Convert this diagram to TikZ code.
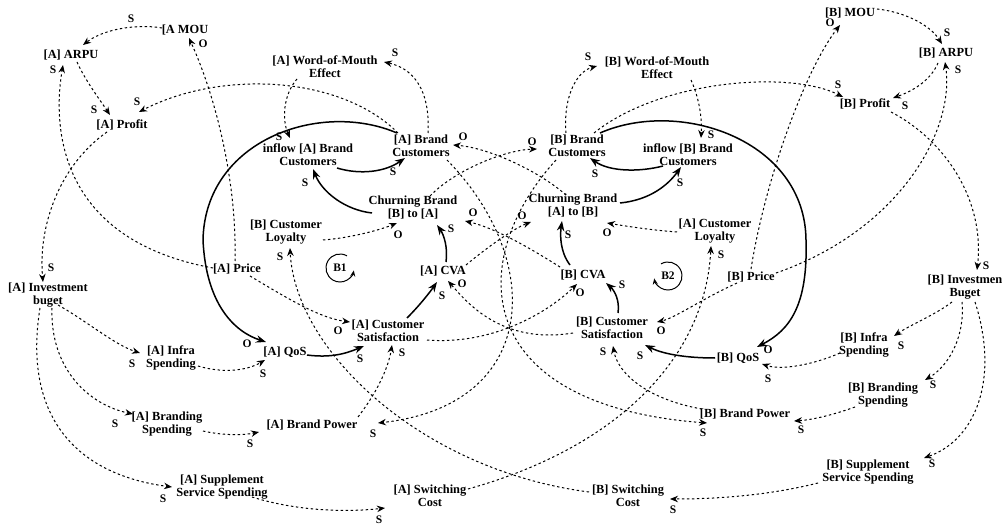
\documentclass[tikz,border=0pt]{standalone}
\usepackage{fontspec}
\setmainfont{Liberation Serif}
\usetikzlibrary{arrows.meta,calc}
\newcounter{labc}
\newcommand{\lab}[3]{\stepcounter{labc}\node[lab] (lab\arabic{labc}) at (#1,-#2) {#3};}
\begin{document}
\begin{tikzpicture}[x=1pt,y=1pt,
  var/.style={font=\fontsize{12.4}{13}\selectfont\bfseries, align=center, inner sep=1pt},
  lab/.style={font=\fontsize{11.5}{11.5}\selectfont\bfseries, inner sep=0pt},
  dl/.style={line width=1pt, dash pattern=on 2.4pt off 2.6pt, -{Stealth[length=8pt,width=6.5pt]}},
  sl/.style={line width=1.5pt, -{Stealth[length=10pt,width=7.5pt]}},
  loopc/.style={line width=1pt, -{Stealth[length=6pt,width=5pt]}}]
\useasboundingbox (0,0) rectangle (1008,-526);
% ---------- nodes A side
\node[var] (A_MOU) at (185,-30) {[A MOU};
\node[var] (A_ARPU) at (71,-55) {[A] ARPU};
\node[var] (A_Profit) at (122,-125) {[A] Profit};
\node[var] (A_WoM) at (325,-67) {[A] Word-of-Mouth\\Effect};
\node[var] (A_In) at (308,-155) {inflow [A] Brand\\Customers};
\node[var] (A_BC) at (421,-146) {[A] Brand\\Customers};
\node[var] (C_BA) at (413,-208) {Churning Brand\\{[B]} to [A]};
\node[var] (B_Loy) at (286,-232) {[B] Customer\\Loyalty};
\node[var] (A_CVA) at (443,-271) {[A] CVA};
\node[var] (A_Price) at (237,-269) {[A] Price};
\node[var] (A_Inv) at (48,-295) {[A] Investment\\buget};
\node[var] (A_CS) at (388,-331) {[A] Customer\\Satisfaction};
\node[var] (A_QoS) at (285,-352) {[A] QoS};
\node[var] (A_Infra) at (171,-358) {[A] Infra\\Spending};
\node[var] (A_BSp) at (167,-424) {[A] Branding\\Spending};
\node[var] (A_BP) at (312,-425) {[A] Brand Power};
\node[var] (A_Supp) at (222,-487) {[A] Supplement\\Service Spending};
\node[var] (A_SwC) at (430,-496) {[A] Switching\\Cost};
% ---------- nodes B side
\node[var] (B_SwC) at (628,-496) {[B] Switching\\Cost};
\node[var] (B_Supp) at (868,-472) {[B] Supplement\\Service Spending};
\node[var] (B_BP) at (745,-414) {[B] Brand Power};
\node[var] (B_BSp) at (883,-395) {[B] Branding\\Spending};
\node[var] (B_QoS) at (738,-358) {[B] QoS};
\node[var] (B_Infra) at (864,-345) {[B] Infra\\Spending};
\node[var] (B_Inv) at (965,-287) {[B] Investmen\\Buget};
\node[var] (B_CS) at (612,-328) {[B] Customer\\Satisfaction};
\node[var] (B_CVA) at (583,-275) {[B] CVA};
\node[var] (A_Loy) at (715,-231) {[A] Customer\\Loyalty};
\node[var] (C_AB) at (573,-206) {Churning Brand\\{[A]} to [B]};
\node[var] (B_BC) at (577,-146) {[B] Brand\\Customers};
\node[var] (B_In) at (688,-155) {inflow [B] Brand\\Customers};
\node[var] (B_WoM) at (657,-68) {[B] Word-of-Mouth\\Effect};
\node[var] (B_MOU) at (850,-13) {[B] MOU};
\node[var] (B_ARPU) at (946,-53) {[B] ARPU};
\node[var] (B_Profit) at (865,-104) {[B] Profit};
\node[var] (B_Price) at (751,-277) {[B] Price};
% loops
\node[lab] (B1) at (340,-268) {B1};
\node[lab] (B2) at (668,-276) {B2};
\draw[loopc] ([shift={(60:14)}]B1.center) arc[start angle=60, end angle=350, radius=14];
\draw[loopc] ([shift={(120:14)}]B2.center) arc[start angle=120, end angle=-170, radius=14];
% ---------- A side links
\draw[dl] ($(A_Price)+(-2,8)$) .. controls (237,-180) and (215,-95) .. ($(A_MOU)+(4,-8)$);
\draw[dl] ($(A_MOU)+(-23,2)$) .. controls (140,-24) and (105,-28) .. ($(A_ARPU)+(12,10)$);
\draw[dl] ($(A_Price)+(-24,1)$) .. controls (60,-240) and (52,-130) .. ($(A_ARPU)+(-8,-10)$);
\draw[dl] ($(A_ARPU)+(6,-7)$) .. controls (85,-80) and (100,-100) .. ($(A_Profit)+(-12,10)$);
\draw[dl] ($(A_BC)+(-23,13)$) .. controls (340,-75) and (220,-70) .. ($(A_Profit)+(17,13)$);
\draw[dl] ($(A_Profit)+(-15,-7)$) .. controls (60,-165) and (38,-225) .. ($(A_Inv)+(-5,13)$);
\draw[dl] ($(A_Inv)+(10,-10)$) .. controls (85,-320) and (115,-345) .. ($(A_Infra)+(-31,5)$);
\draw[dl] ($(A_Inv)+(4,-13)$) .. controls (50,-370) and (90,-405) .. ($(A_BSp)+(-34,10)$);
\draw[dl] ($(A_Inv)+(-8,-13)$) .. controls (22,-420) and (80,-475) .. ($(A_Supp)+(-50,0)$);
\draw[dl] ($(A_Infra)+(27,-8)$) .. controls (225,-374) and (248,-370) .. ($(A_QoS)+(-20,-8)$);
\draw[dl] ($(A_BSp)+(36,-7)$) .. controls (225,-436) and (245,-435) .. ($(A_BP)+(-53,-7)$);
\draw[dl] ($(A_Supp)+(30,-10)$) .. controls (300,-512) and (350,-512) .. ($(A_SwC)+(-45,-12)$);
\draw[dl] ($(A_SwC)+(38,7)$) .. controls (615,-448) and (705,-360) .. ($(A_Loy)+(-4,-15)$);
\draw[dl] ($(A_Loy)+(-38,-1)$) .. controls (650,-230) and (625,-226) .. ($(C_AB)+(34,-17)$);
\draw[sl] ($(A_QoS)+(22,-3)$) .. controls (330,-358) and (345,-354) .. ($(A_CS)+(-24,-15)$);
\draw[dl] ($(A_Price)+(13,-7)$) .. controls (290,-300) and (320,-318) .. ($(A_CS)+(-38,9)$);
\draw[dl] ($(A_BP)+(46,8)$) .. controls (375,-395) and (388,-370) .. ($(A_CS)+(4,-14)$);
\draw[sl] ($(A_CS)+(19,13)$) .. controls (420,-305) and (430,-292) .. ($(A_CVA)+(-6,-11)$);
\draw[dl] ($(B_CS)+(-39,-5)$) .. controls (500,-345) and (465,-300) .. ($(A_CVA)+(5,-10)$);
\draw[sl] ($(A_CVA)+(3,9)$) .. controls (448,-248) and (444,-235) .. ($(C_BA)+(24,-17)$);
\draw[dl] ($(A_CVA)+(23,6)$) .. controls (490,-245) and (515,-228) .. ($(C_AB)+(-42,-16)$);
\draw[sl] ($(C_BA)+(-41,-5)$) .. controls (345,-210) and (322,-192) .. ($(A_In)+(5,-14)$);
\draw[sl] ($(A_In)+(29,-13)$) .. controls (360,-175) and (385,-172) .. ($(A_BC)+(-16,-12)$);
\draw[dl] ($(C_AB)+(-7,11)$) .. controls (540,-172) and (490,-148) .. ($(A_BC)+(32,1)$);
\draw[sl] ($(A_BC)+(-24,13)$) .. controls (320,-100) and (205,-140) .. (203,-240) .. controls (206,-305) and (235,-332) .. ($(A_QoS)+(-19,10)$);
\draw[dl] ($(A_BC)+(7,13)$) .. controls (430,-100) and (420,-70) .. ($(A_WoM)+(59,5)$);
\draw[dl] ($(A_WoM)+(-28,-12)$) .. controls (283,-95) and (282,-120) .. ($(A_In)+(-18,17)$);
\draw[dl] ($(A_BC)+(26,-14)$) .. controls (545,-260) and (540,-405) .. ($(A_BP)+(66,2)$);
% ---------- B side links
\draw[dl] ($(B_Price)+(0,8)$) .. controls (765,-180) and (805,-70) .. ($(B_MOU)+(-10,-12)$);
\draw[dl] ($(B_MOU)+(27,4)$) .. controls (905,-12) and (930,-25) .. ($(B_ARPU)+(-4,9)$);
\draw[dl] ($(B_Price)+(25,4)$) .. controls (900,-230) and (955,-130) .. ($(B_ARPU)+(-1,-9)$);
\draw[dl] ($(B_ARPU)+(-8,-10)$) .. controls (930,-82) and (910,-92) .. ($(B_Profit)+(28,6)$);
\draw[dl] ($(B_BC)+(17,13)$) .. controls (660,-80) and (790,-70) .. ($(B_Profit)+(-22,7)$);
\draw[dl] ($(B_Profit)+(26,-8)$) .. controls (945,-140) and (985,-200) .. ($(B_Inv)+(12,17)$);
\draw[dl] ($(B_Inv)+(-13,-15)$) .. controls (935,-315) and (910,-325) .. ($(B_Infra)+(30,9)$);
\draw[dl] ($(B_Inv)+(-3,-15)$) .. controls (965,-335) and (950,-365) .. ($(B_BSp)+(42,15)$);
\draw[dl] ($(B_Inv)+(10,-15)$) .. controls (1000,-380) and (975,-440) .. ($(B_Supp)+(56,14)$);
\draw[dl] ($(B_Infra)+(-24,-8)$) .. controls (810,-366) and (780,-370) .. ($(B_QoS)+(24,-6)$);
\draw[dl] ($(B_BSp)+(-28,-12)$) .. controls (830,-416) and (810,-420) .. ($(B_BP)+(49,-7)$);
\draw[dl] ($(B_Supp)+(-50,-11)$) .. controls (770,-495) and (720,-499) .. ($(B_SwC)+(42,-3)$);
\draw[dl] ($(B_SwC)+(-39,4)$) .. controls (420,-470) and (295,-350) .. ($(B_Loy)+(4,-16)$);
\draw[dl] ($(B_Loy)+(37,-8)$) .. controls (350,-238) and (380,-230) .. ($(C_BA)+(-16,-15)$);
\draw[sl] ($(B_QoS)+(-23,0)$) .. controls (690,-358) and (665,-355) .. ($(B_CS)+(33,-17)$);
\draw[dl] ($(B_Price)+(-14,-6)$) .. controls (700,-300) and (675,-318) .. ($(B_CS)+(45,6)$);
\draw[dl] ($(B_BP)+(-43,5)$) .. controls (650,-400) and (618,-375) .. ($(B_CS)+(1,-18)$);
\draw[sl] ($(B_CS)+(6,15)$) .. controls (620,-300) and (614,-290) .. ($(B_CVA)+(23,-8)$);
\draw[dl] ($(A_CS)+(39,-9)$) .. controls (490,-345) and (545,-315) .. ($(B_CVA)+(-6,-9)$);
\draw[sl] ($(B_CVA)+(-13,10)$) .. controls (560,-252) and (560,-235) .. ($(C_AB)+(-11,-15)$);
\draw[dl] ($(B_CVA)+(-23,8)$) .. controls (530,-248) and (495,-228) .. ($(C_BA)+(52,-13)$);
\draw[sl] ($(C_AB)+(47,3)$) .. controls (650,-200) and (668,-185) .. ($(B_In)+(-7,-12)$);
\draw[sl] ($(B_In)+(-25,-11)$) .. controls (640,-172) and (610,-172) .. ($(B_BC)+(13,-12)$);
\draw[dl] ($(C_BA)+(17,12)$) .. controls (455,-170) and (505,-150) .. ($(B_BC)+(-40,-3)$);
\draw[sl] ($(B_BC)+(23,13)$) .. controls (680,-98) and (805,-140) .. (806,-240) .. controls (808,-305) and (790,-330) .. ($(B_QoS)+(19,11)$);
\draw[dl] ($(B_BC)+(-11,13)$) .. controls (563,-100) and (575,-72) .. ($(B_WoM)+(-60,2)$);
\draw[dl] ($(B_WoM)+(34,-12)$) .. controls (700,-100) and (702,-120) .. ($(B_In)+(13,17)$);
\draw[dl] ($(B_BC)+(-21,-14)$) .. controls (465,-260) and (470,-405) .. ($(B_BP)+(-38,-9)$);
% ---------- polarity labels A side
\lab{203}{44}{O}
\lab{131}{19}{S}
\lab{53}{70}{S}
\lab{94}{110}{S}
\lab{137}{102}{S}
\lab{51}{268}{S}
\lab{132}{364}{S}
\lab{115}{424}{S}
\lab{163}{499}{S}
\lab{263}{374}{S}
\lab{250}{444}{S}
\lab{379}{520}{S}
\lab{721}{255}{S}
\lab{607}{233}{O}
\lab{360}{359}{S}
\lab{338}{331}{O}
\lab{402}{353}{S}
\lab{442}{296}{S}
\lab{462}{284}{O}
\lab{451}{229}{S}
\lab{522}{216}{O}
\lab{305}{183}{S}
\lab{393}{172}{S}
\lab{463}{137}{O}
\lab{247}{344}{O}
\lab{395}{53}{S}
\lab{279}{137}{S}
\lab{373}{434}{S}
% ---------- polarity labels B side
\lab{830}{23}{O}
\lab{947}{33}{S}
\lab{958}{70}{S}
\lab{905}{106}{S}
\lab{838}{85}{S}
\lab{986}{266}{S}
\lab{901}{346}{S}
\lab{933}{385}{S}
\lab{932}{464}{S}
\lab{768}{379}{S}
\lab{801}{430}{S}
\lab{673}{510}{S}
\lab{280}{257}{S}
\lab{398}{235}{O}
\lab{640}{356}{S}
\lab{661}{331}{O}
\lab{603}{352}{S}
\lab{622}{285}{S}
\lab{580}{293}{O}
\lab{568}{235}{S}
\lab{473}{213}{O}
\lab{680}{183}{S}
\lab{595}{174}{S}
\lab{532}{142}{O}
\lab{768}{350}{O}
\lab{588}{57}{S}
\lab{711}{135}{S}
\lab{703}{433}{S}
\end{tikzpicture}
\end{document}
